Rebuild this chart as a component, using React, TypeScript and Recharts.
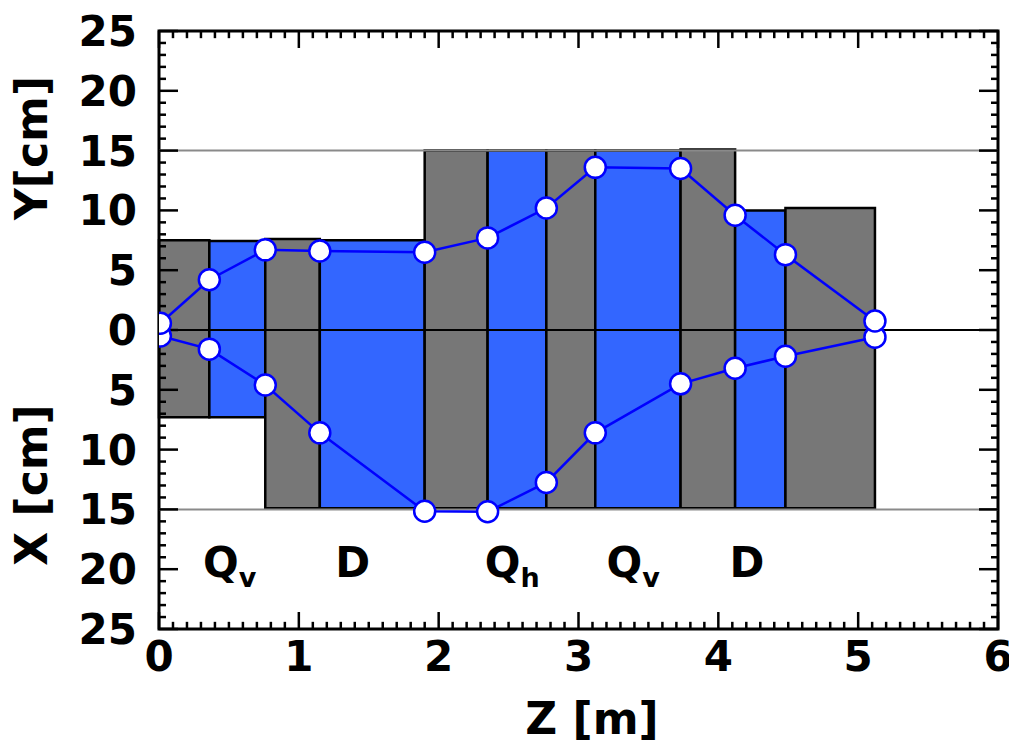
import React from "react";
import {
  ComposedChart,
  Line,
  XAxis,
  YAxis,
  ReferenceArea,
  ReferenceLine,
  ReferenceDot,
} from "recharts";

const FONT = "'DejaVu Sans', Verdana, sans-serif";

// magnet lattice: start/end along Z [m], top (Y) and bottom (X) apertures [cm]
const magnetStart = [0, 0.36, 0.76, 1.15, 1.9, 2.35, 2.77, 3.12, 3.73, 4.12, 4.48];
const magnetEnd = [0.36, 0.76, 1.15, 1.9, 2.35, 2.77, 3.12, 3.73, 4.12, 4.48, 5.12];
const magnetTop = [7.5, 7.45, 7.6, 7.5, 15, 15, 15, 15, 15.1, 10.0, 10.2];
const magnetBottom = [-7.3, -7.3, -14.9, -14.9, -14.9, -14.9, -14.9, -14.9, -14.9, -14.9, -14.9];
const magnetColor = [
  "#777777", "#3366ff", "#777777", "#3366ff", "#777777", "#3366ff",
  "#777777", "#3366ff", "#777777", "#3366ff", "#777777",
];

// beam envelope sample points
const zPoints = [0.01, 0.36, 0.76, 1.15, 1.9, 2.35, 2.77, 3.12, 3.73, 4.12, 4.48, 5.12];
const yEnvelope = [0.56, 4.2, 6.7, 6.6, 6.5, 7.7, 10.2, 13.6, 13.5, 9.6, 6.3, 0.75];
const xEnvelope = [-0.5, -1.6, -4.6, -8.6, -15.15, -15.2, -12.75, -8.6, -4.5, -3.2, -2.2, -0.6];

// element names written under the lattice
const elementZ = [0.315, 1.26, 2.33, 3.2, 4.08];
const elementName = ["Q", "D", "Q", "Q", "D"];
const elementSub = ["v", "", "h", "v", ""];
const elementLabelY = -20.65;

const xTicks = [0, 1, 2, 3, 4, 5, 6];
const yTicks = [-25, -20, -15, -10, -5, 0, 5, 10, 15, 20, 25];

const upperData = zPoints.map((z, i) => ({ z, v: yEnvelope[i] }));
const lowerData = zPoints.map((z, i) => ({ z, v: xEnvelope[i] }));

// tick marks on all four sides of the frame, pointing inward
const zMarks = Array.from({ length: 61 }, (_, i) => ({ v: i / 10, major: i % 10 === 0 }));
const cmMarks = Array.from({ length: 51 }, (_, i) => ({ v: i - 25, major: (i - 25) % 5 === 0 }));

const dotStyle = { r: 10.5, fill: "#ffffff", stroke: "#0000ff", strokeWidth: 2.5 };

const renderYTitles = () => (
  <g fontFamily={FONT} fontWeight="bold" fontSize={44} fill="#000">
    <text transform="translate(47,148) rotate(-90)" textAnchor="middle">
      Y[cm]
    </text>
    <text transform="translate(47,485) rotate(-90)" textAnchor="middle">
      X [cm]
    </text>
  </g>
);

const renderZTitle = () => (
  <text
    x={592}
    y={734}
    textAnchor="middle"
    fontFamily={FONT}
    fontWeight="bold"
    fontSize={44}
    fill="#000"
  >
    Z [m]
  </text>
);

const App = () => {
  const tickStyle = { fontSize: 42, fontWeight: "bold", fill: "#000", fontFamily: FONT };

  return (
    <div style={{ position: "absolute", left: 0, top: 0 }}>
      <ComposedChart
        width={1009}
        height={740}
        margin={{ top: 31, right: 11, left: 99, bottom: 51 }}
      >
        <XAxis
          dataKey="z"
          type="number"
          domain={[0, 6]}
          ticks={xTicks}
          interval={0}
          allowDataOverflow
          axisLine={false}
          tickLine={false}
          tickSize={0}
          tickMargin={12}
          height={60}
          tick={tickStyle}
          label={renderZTitle}
        />
        <YAxis
          type="number"
          domain={[-25, 25]}
          ticks={yTicks}
          interval={0}
          allowDataOverflow
          axisLine={false}
          tickLine={false}
          tickSize={0}
          tickMargin={22}
          width={60}
          tick={tickStyle}
          tickFormatter={(v: number) => String(Math.abs(v))}
          label={renderYTitles}
        />

        {magnetStart.map((s, i) => (
          <ReferenceArea
            key={`mag-${i}`}
            x1={s}
            x2={magnetEnd[i]}
            y1={magnetBottom[i]}
            y2={magnetTop[i]}
            fill={magnetColor[i]}
            fillOpacity={1}
            stroke="#000"
            strokeWidth={2.5}
          />
        ))}

        <ReferenceLine y={15} stroke="#8a8a8a" strokeWidth={2} />
        <ReferenceLine y={-15} stroke="#8a8a8a" strokeWidth={2} />
        <ReferenceLine y={0} stroke="#000" strokeWidth={2} />

        <Line
          data={lowerData}
          dataKey="v"
          type="linear"
          stroke="#0000ff"
          strokeWidth={2.5}
          dot={dotStyle}
          isAnimationActive={false}
        />
        <Line
          data={upperData}
          dataKey="v"
          type="linear"
          stroke="#0000ff"
          strokeWidth={2.5}
          dot={dotStyle}
          isAnimationActive={false}
        />

        {elementZ.map((z, i) => (
          <ReferenceDot
            key={`el-${i}`}
            x={z}
            y={elementLabelY}
            r={0}
            shape={(p: any) => (
              <text
                x={p.cx}
                y={p.cy}
                fontFamily={FONT}
                fontWeight="bold"
                fontSize={42}
                fill="#000"
              >
                {elementName[i]}
                {elementSub[i] && (
                  <tspan fontSize={27} dy={10}>
                    {elementSub[i]}
                  </tspan>
                )}
              </text>
            )}
          />
        ))}

        {zMarks.map((m) => {
          const len = m.major ? 1.42 : 0.6;
          return (
            <React.Fragment key={`zt-${m.v}`}>
              <ReferenceLine
                segment={[{ x: m.v, y: 25 }, { x: m.v, y: 25 - len }]}
                stroke="#000"
                strokeWidth={2.5}
              />
              <ReferenceLine
                segment={[{ x: m.v, y: -25 }, { x: m.v, y: -25 + len }]}
                stroke="#000"
                strokeWidth={2.5}
              />
            </React.Fragment>
          );
        })}
        {cmMarks.map((m) => {
          const len = m.major ? 0.136 : 0.05;
          return (
            <React.Fragment key={`ct-${m.v}`}>
              <ReferenceLine
                segment={[{ x: 0, y: m.v }, { x: len, y: m.v }]}
                stroke="#000"
                strokeWidth={2.5}
              />
              <ReferenceLine
                segment={[{ x: 6, y: m.v }, { x: 6 - len, y: m.v }]}
                stroke="#000"
                strokeWidth={2.5}
              />
            </React.Fragment>
          );
        })}

        <ReferenceArea
          x1={0}
          x2={6}
          y1={-25}
          y2={25}
          fill="none"
          stroke="#000"
          strokeWidth={3}
        />
      </ComposedChart>
    </div>
  );
};

export default App;
